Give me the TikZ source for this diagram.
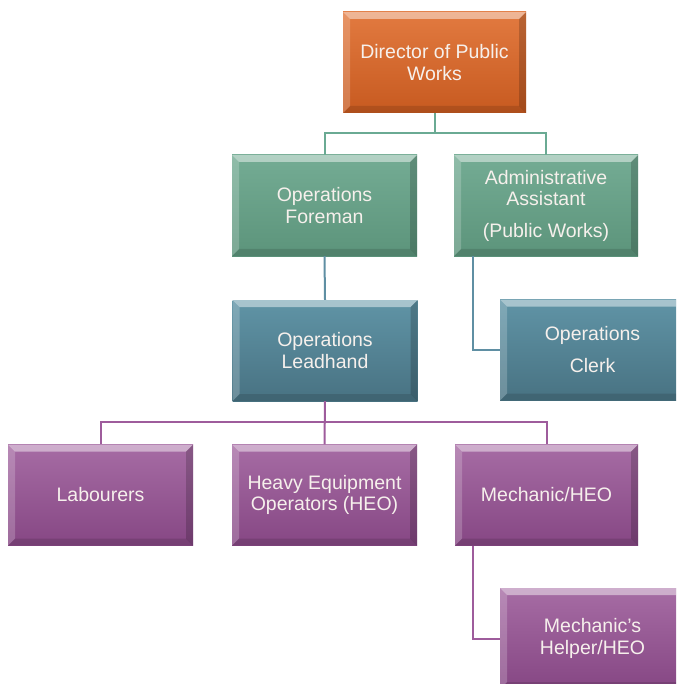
\documentclass[tikz,border=0pt]{standalone}
\usepackage{fontspec}
\setmainfont{Liberation Sans}
\definecolor{orT}{HTML}{E27A40}
\definecolor{orB}{HTML}{C75A20}
\definecolor{grT}{HTML}{74AC94}
\definecolor{grB}{HTML}{5C947B}
\definecolor{blT}{HTML}{6094A6}
\definecolor{blB}{HTML}{487282}
\definecolor{puT}{HTML}{A66CA4}
\definecolor{puB}{HTML}{864784}
\definecolor{txt}{HTML}{F6F0EC}
\definecolor{gln}{HTML}{6AAA93}
\definecolor{bln}{HTML}{5F8FA3}
\definecolor{pln}{HTML}{9E5C9C}
\tikzset{
  bevel/.style={path picture={
    \def\bb{path picture bounding box}
    \fill[white,opacity=0.45] (\bb.north west) -- (\bb.north east) -- ([shift={(-7pt,-7pt)}]\bb.north east) -- ([shift={(7pt,-7pt)}]\bb.north west) -- cycle;
    \fill[white,opacity=0.2] (\bb.north west) -- ([shift={(7pt,-7pt)}]\bb.north west) -- ([shift={(7pt,7pt)}]\bb.south west) -- (\bb.south west) -- cycle;
    \fill[black,opacity=0.18] (\bb.north east) -- ([shift={(-7pt,-7pt)}]\bb.north east) -- ([shift={(-7pt,7pt)}]\bb.south east) -- (\bb.south east) -- cycle;
    \fill[black,opacity=0.12] (\bb.south west) -- ([shift={(7pt,7pt)}]\bb.south west) -- ([shift={(-7pt,7pt)}]\bb.south east) -- (\bb.south east) -- cycle;
  }},
  box/.style={bevel, minimum width=185pt, minimum height=101pt, inner sep=0pt,
    text=txt, align=center, font=\fontsize{19.5}{21.5}\selectfont},
  orbox/.style={box, top color=orT, bottom color=orB},
  grbox/.style={box, top color=grT, bottom color=grB},
  blbox/.style={box, top color=blT, bottom color=blB},
  pubox/.style={box, top color=puT, bottom color=puB},
  conn/.style={line width=2pt},
  gline/.style={conn, draw=gln},
  bline/.style={conn, draw=bln},
  pline/.style={conn, draw=pln},
}
\begin{document}
\begin{tikzpicture}[x=1pt,y=-1pt]
\useasboundingbox (0,0) rectangle (676,684);
\clip (0,0) rectangle (676,684);
\node[orbox, minimum width=183pt] (dir) at (434.5,62.5) {Director of Public\\Works};
\node[grbox] (fore) at (324.5,205.5) {Operations\\Foreman};
\node[grbox, minimum width=184pt] (adm) at (546,205.5) {Administrative\\Assistant\\[10pt](Public Works)};
\node[blbox] (lead) at (325,350.5) {Operations\\Leadhand};
\node[blbox, font=\fontsize{19.5}{32}\selectfont] (clerk) at (592.5,350) {Operations\\Clerk};
\node[pubox] (lab) at (100.5,495) {Labourers};
\node[pubox] (heo) at (324.5,495) {Heavy Equipment\\Operators (HEO)};
\node[pubox, minimum width=183pt] (mech) at (546.5,495) {Mechanic/HEO};
\node[pubox] (help) at (592.5,638.5) {Mechanic's\\Helper/HEO};
\draw[gline] (dir.south) -- ++(0,20) -| (fore.north);
\draw[gline] (dir.south) -- ++(0,20) -| (adm.north);
\draw[bline] (fore.south) -- (lead.north);
\draw[bline] ([xshift=-73pt]adm.south) |- (clerk.west);
\draw[pline] (lead.south) -- ++(0,21) -| (lab.north);
\draw[pline] (lead.south) -- (heo.north);
\draw[pline] (lead.south) -- ++(0,21) -| (mech.north);
\draw[pline] ([xshift=-73.5pt]mech.south) |- (help.west);
\end{tikzpicture}
\end{document}
